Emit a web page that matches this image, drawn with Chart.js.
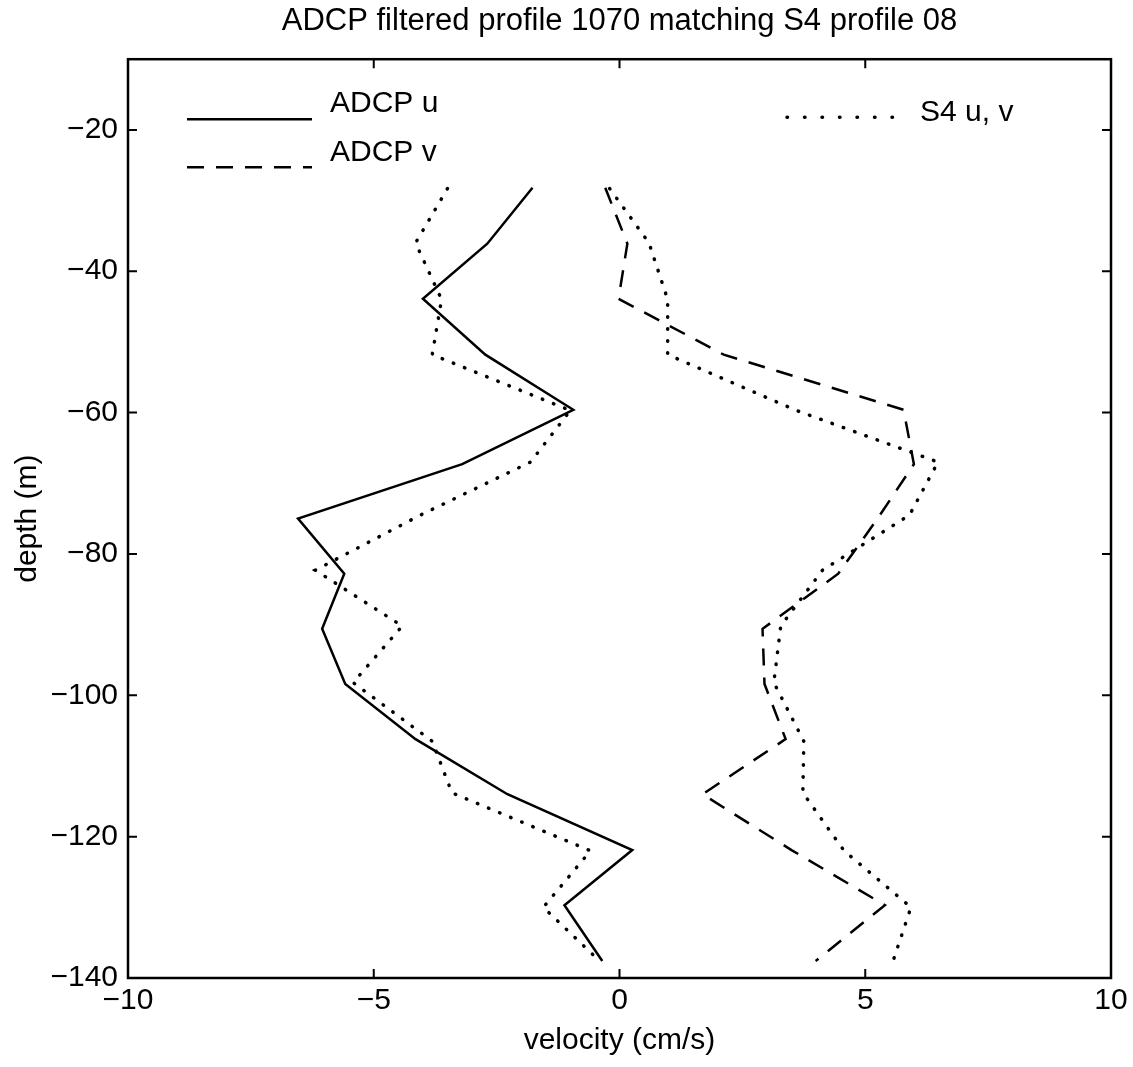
<!DOCTYPE html>
<html>
<head>
<meta charset="utf-8">
<script src="https://cdn.jsdelivr.net/npm/chart.js@4.4.1/dist/chart.umd.min.js"></script>
<style>
  html, body { margin: 0; padding: 0; background: #fff; }
</style>
</head>
<body>
<canvas id="myChart" width="1133" height="1067"></canvas>
<script>
// depth of each profile sample (m)
const adcpDepth = [-28.2, -36.1, -43.9, -51.8, -59.6, -67.3, -75.0, -82.8, -90.6, -98.4, -106.2, -114.0, -121.9, -129.7, -137.6]
const adcpU = [-1.77, -2.69, -4.0, -2.73, -0.94, -3.2, -6.54, -5.6, -6.05, -5.58, -4.15, -2.28, 0.26, -1.12, -0.35]
const adcpV = [-0.29, 0.16, -0.02, 2.12, 5.78, 5.99, 5.25, 4.45, 2.91, 2.95, 3.38, 1.69, 3.5, 5.4, 3.99]

const s4Depth = [-28.3, -36.0, -44.0, -51.8, -59.7, -67.0, -74.5, -82.3, -90.2, -98.2, -106.5, -113.8, -122.0, -130.0, -137.3]
const s4U = [-3.5, -4.15, -3.62, -3.81, -1.0, -1.81, -4.05, -6.19, -4.42, -5.42, -3.81, -3.41, -0.59, -1.55, -0.45]
const s4V = [-0.2, 0.6, 0.98, 0.98, 3.6, 6.48, 5.9, 4.13, 3.28, 3.14, 3.75, 3.73, 4.57, 5.93, 5.58]

const xTicks = [-10, -5, 0, 5, 10]
const yTicks = [-140, -120, -100, -80, -60, -40, -20]

const FONT = '"Liberation Sans", Arial, Helvetica, sans-serif'
const minus = v => String(v).replace('-', '\u2212')

function toPoints(xs, ys) {
  return xs.map((x, i) => ({ x: x, y: ys[i] }))
}

const solid = { borderColor: '#000', borderWidth: 2.5, borderDash: [] }
const dashed = { borderColor: '#000', borderWidth: 2.5, borderDash: [17, 12] }
const dotted = { borderColor: '#000', borderWidth: 3.5, borderDash: [0.5, 11.5], borderCapStyle: 'round' }

// box + inward tick marks, MATLAB style
const boxTicks = {
  id: 'boxTicks',
  afterDraw(chart) {
    const { ctx, chartArea: a, scales } = chart
    const len = 9
    ctx.save()
    ctx.strokeStyle = '#000'
    ctx.lineWidth = 2.5
    ctx.setLineDash([])
    ctx.strokeRect(a.left, a.top, a.right - a.left, a.bottom - a.top)
    ctx.lineWidth = 2
    ctx.beginPath()
    xTicks.forEach(v => {
      const px = scales.x.getPixelForValue(v)
      ctx.moveTo(px, a.bottom); ctx.lineTo(px, a.bottom - len)
      ctx.moveTo(px, a.top); ctx.lineTo(px, a.top + len)
    })
    yTicks.forEach(v => {
      const py = scales.y.getPixelForValue(v)
      ctx.moveTo(a.left, py); ctx.lineTo(a.left + len, py)
      ctx.moveTo(a.right, py); ctx.lineTo(a.right - len, py)
    })
    ctx.stroke()
    ctx.restore()
  }
}

// legend drawn inside the axes like the original
const boxLegend = {
  id: 'boxLegend',
  afterDraw(chart) {
    const { ctx, chartArea: a } = chart
    const entries = [
      { style: solid, x0: 59, x1: 184, y: 60, tx: 202, ty: 45, text: 'ADCP u' },
      { style: dashed, x0: 59, x1: 184, y: 108, tx: 202, ty: 94, text: 'ADCP v' },
      { style: { borderWidth: 3.5, borderDash: [0.5, 17], borderCapStyle: 'round' }, x0: 659, x1: 776, y: 58, tx: 792, ty: 54, text: 'S4 u, v' }
    ]
    ctx.save()
    entries.forEach(e => {
      ctx.strokeStyle = '#000'
      ctx.lineWidth = e.style.borderWidth
      ctx.setLineDash(e.style.borderDash)
      ctx.lineCap = e.style.borderCapStyle || 'butt'
      ctx.beginPath()
      ctx.moveTo(a.left + e.x0, a.top + e.y)
      ctx.lineTo(a.left + e.x1, a.top + e.y)
      ctx.stroke()
      ctx.setLineDash([])
      ctx.fillStyle = '#000'
      ctx.font = '30px ' + FONT
      ctx.textAlign = 'left'
      ctx.textBaseline = 'middle'
      ctx.fillText(e.text, a.left + e.tx, a.top + e.ty)
    })
    ctx.restore()
  }
}

const ctx = document.getElementById('myChart')
const myChart = new Chart(ctx, {
  type: 'scatter',
  data: {
    datasets: [
      Object.assign({ label: 'ADCP u', data: toPoints(adcpU, adcpDepth) }, solid),
      Object.assign({ label: 'ADCP v', data: toPoints(adcpV, adcpDepth) }, dashed),
      Object.assign({ label: 'S4 u', data: toPoints(s4U, s4Depth) }, dotted),
      Object.assign({ label: 'S4 v', data: toPoints(s4V, s4Depth) }, dotted)
    ].map(d => Object.assign(d, { showLine: true, pointRadius: 0, tension: 0, fill: false }))
  },
  options: {
    responsive: false,
    animation: false,
    layout: { padding: { top: 0, right: 22, bottom: 0, left: 0 } },
    font: { family: FONT },
    plugins: {
      legend: { display: false },
      tooltip: { enabled: false },
      title: {
        display: true,
        fullSize: false,
        text: 'ADCP filtered profile 1070 matching S4 profile 08',
        color: '#000',
        font: { family: FONT, size: 31, weight: 'normal' },
        padding: { top: 3, bottom: 19 }
      }
    },
    scales: {
      x: {
        type: 'linear',
        min: -10,
        max: 10,
        grid: { display: false, drawTicks: false },
        border: { display: false },
        afterBuildTicks: s => { s.ticks = xTicks.map(v => ({ value: v })) },
        afterFit: s => { s.height = 89 },
        ticks: {
          color: '#000',
          padding: 5,
          maxRotation: 0,
          font: { family: FONT, size: 30 },
          callback: v => minus(v)
        },
        title: {
          display: true,
          text: 'velocity (cm/s)',
          color: '#000',
          font: { family: FONT, size: 30 },
          padding: { top: 0, bottom: 8 }
        }
      },
      y: {
        type: 'linear',
        min: -140,
        max: -10,
        grid: { display: false, drawTicks: false },
        border: { display: false },
        afterBuildTicks: s => { s.ticks = yTicks.map(v => ({ value: v })) },
        afterFit: s => { s.width = 128 },
        ticks: {
          color: '#000',
          padding: 10,
          font: { family: FONT, size: 30 },
          callback: v => minus(v)
        },
        title: {
          display: true,
          text: 'depth (m)',
          color: '#000',
          font: { family: FONT, size: 30 },
          padding: { top: 10, bottom: 0 }
        }
      }
    }
  },
  plugins: [boxTicks, boxLegend]
})
</script>
</body>
</html>
